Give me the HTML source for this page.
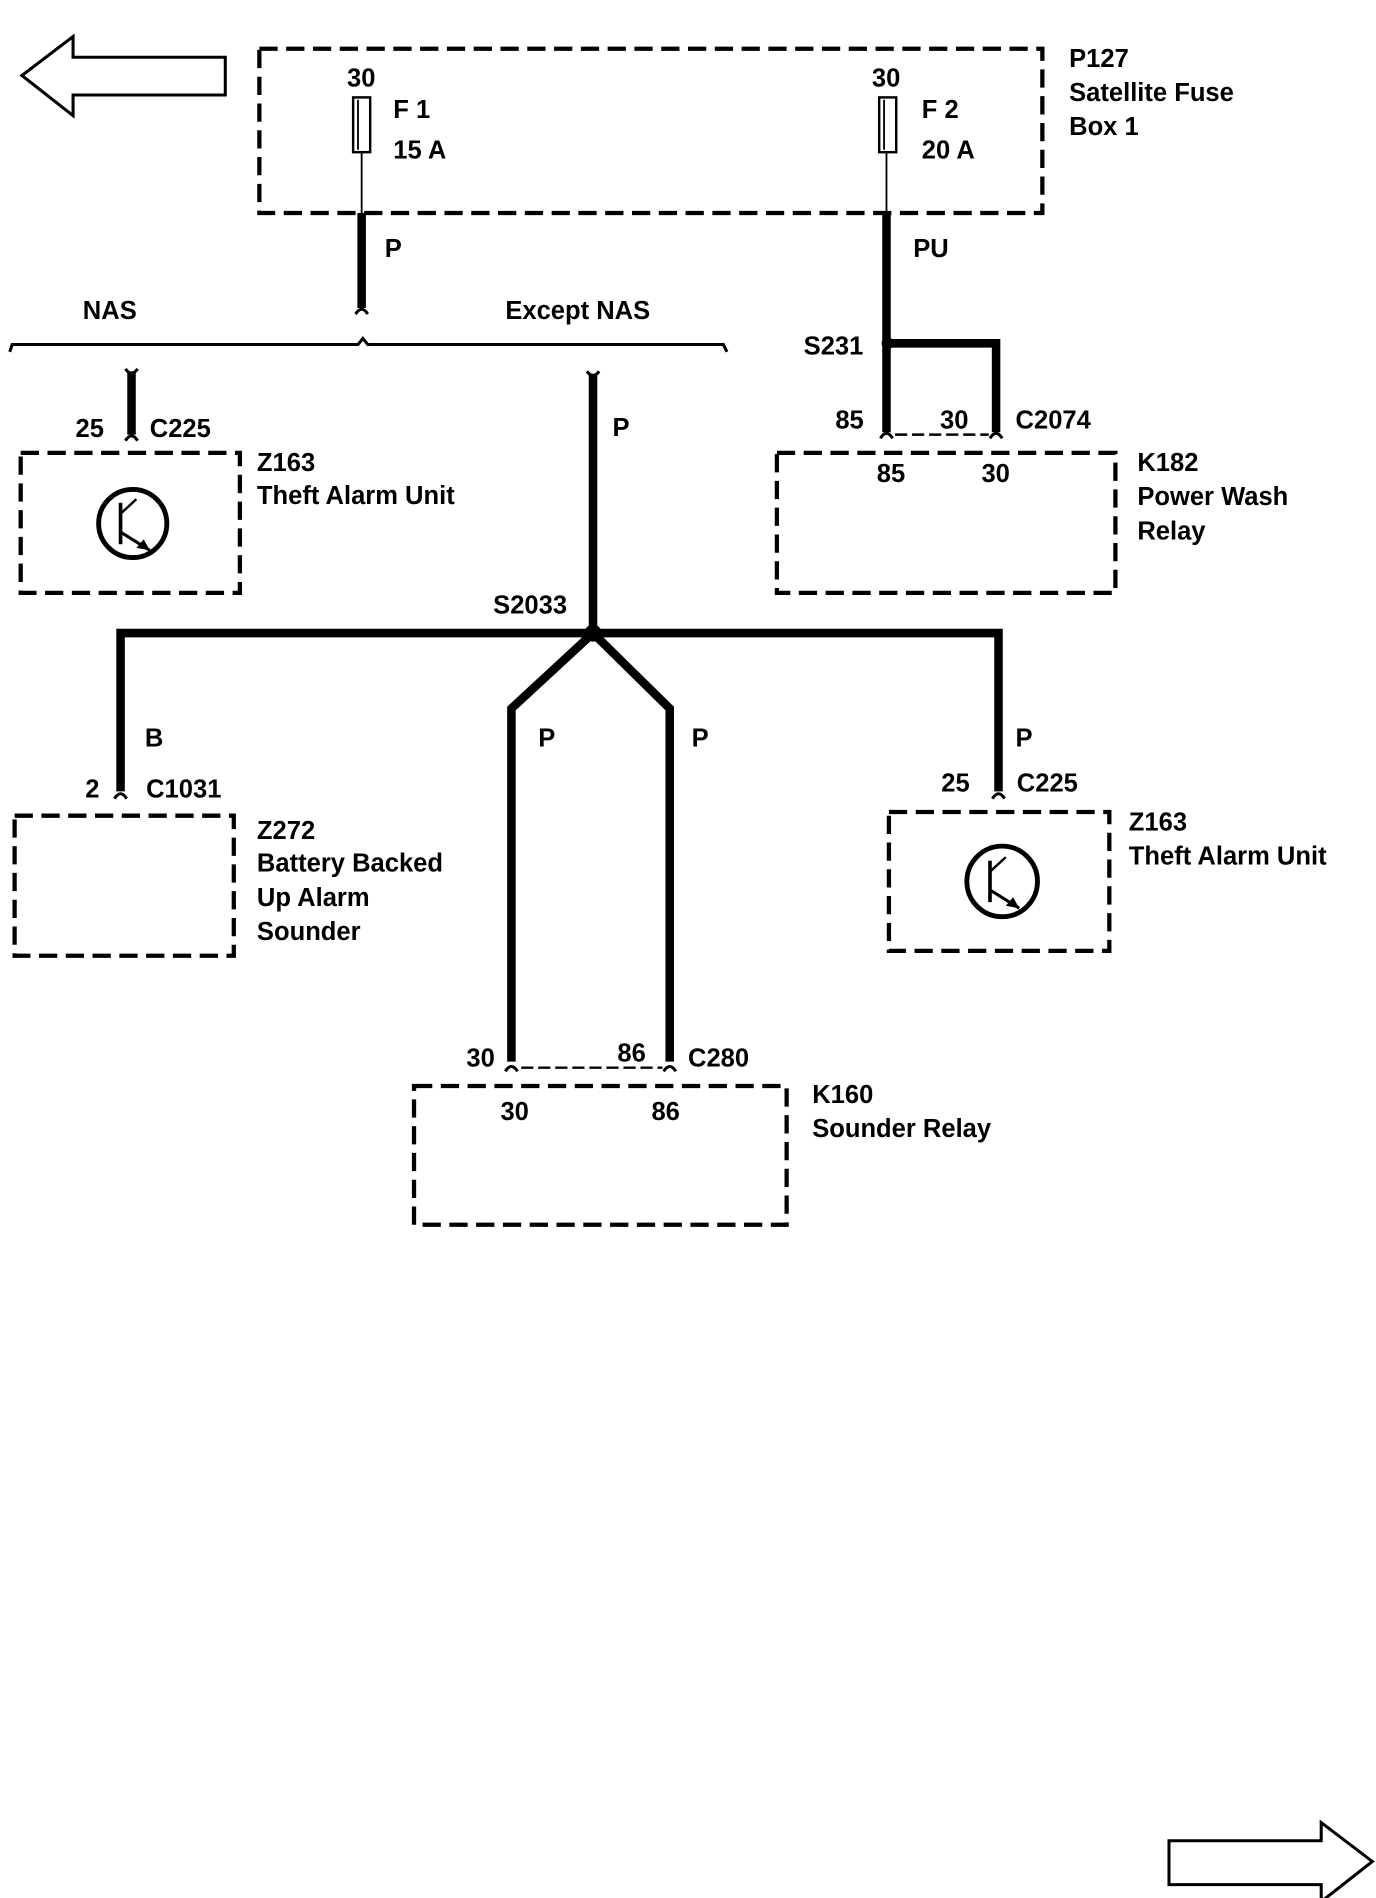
<!DOCTYPE html>
<html><head><meta charset="utf-8"><style>
html,body{margin:0;padding:0;background:#fff}
svg{display:block}
text{font-family:"Liberation Sans",Arial,sans-serif;font-weight:bold;font-size:21px;fill:#000}
.d{fill:none;stroke:#000;stroke-width:3.5;stroke-dasharray:15 7}
.w{fill:none;stroke:#000;stroke-width:7}
.t{fill:none;stroke:#000;stroke-width:1.5}
.c{fill:none;stroke:#000;stroke-width:2.5}
</style></head><body>
<svg width="1376" height="1898" viewBox="0 0 1130 1559" preserveAspectRatio="none">
<polygon points="18,62 60,30 60,47 185,47 185,78 60,78 60,95" fill="#fff" stroke="#000" stroke-width="2.5"/>
<polygon points="960,1512 1085,1512 1085,1497 1127,1529 1085,1562 1085,1548 960,1548" fill="#fff" stroke="#000" stroke-width="2.5"/>
<rect x="213" y="40" width="643" height="135" class="d"/>
<rect x="290" y="80" width="14" height="45" fill="#fff" stroke="#000" stroke-width="2"/>
<line x1="294" y1="82" x2="294" y2="123" class="t"/>
<rect x="722" y="80" width="14" height="45" fill="#fff" stroke="#000" stroke-width="2"/>
<line x1="726" y1="82" x2="726" y2="123" class="t"/>
<line x1="297" y1="125" x2="297" y2="175" class="t"/>
<line x1="728" y1="125" x2="728" y2="175" class="t"/>
<text x="285" y="71">30</text><text x="716" y="71">30</text>
<text x="323" y="97">F 1</text><text x="323" y="130">15 A</text>
<text x="757" y="97">F 2</text><text x="757" y="130">20 A</text>
<text x="878" y="55">P127</text><text x="878" y="83">Satellite Fuse</text><text x="878" y="111">Box 1</text>
<line x1="297" y1="175" x2="297" y2="253" class="w"/>
<path d="M292,258 Q297,250 302,258" class="c"/>
<line x1="728" y1="175" x2="728" y2="355" class="w"/>
<text x="316" y="211">P</text><text x="750" y="211">PU</text>
<text x="68" y="262">NAS</text><text x="415" y="262">Except NAS</text>
<path d="M8,289 L10,283 L294,283 L298,278 L302,283 L594,283 L597,289" fill="none" stroke="#000" stroke-width="2.5"/>
<line x1="108" y1="305" x2="108" y2="357" class="w"/>
<path d="M103,303 Q108,310 113,303" class="c"/>
<path d="M103,362 Q108,354 113,362" class="c"/>
<text x="62" y="359">25</text><text x="123" y="359">C225</text>
<rect x="17" y="372" width="180" height="115" class="d"/>
<circle cx="109" cy="430" r="28" fill="none" stroke="#000" stroke-width="4"/>
<line x1="99" y1="413" x2="99" y2="447" stroke="#000" stroke-width="3"/>
<line x1="99" y1="422" x2="112" y2="410" stroke="#000" stroke-width="2"/>
<line x1="99" y1="437" x2="123" y2="452" stroke="#000" stroke-width="2.5"/>
<polygon points="123,452 112,450 118,443" fill="#000"/>
<text x="211" y="387">Z163</text><text x="211" y="414">Theft Alarm Unit</text>
<line x1="487" y1="307" x2="487" y2="520" class="w"/>
<path d="M482,305 Q487,312 492,305" class="c"/>
<text x="503" y="358">P</text>
<circle cx="729" cy="282" r="5" fill="#000"/>
<polyline points="729,282 818,282 818,355" class="w"/>
<text x="660" y="291">S231</text>
<path d="M723,360 Q728,352 733,360" class="c"/>
<path d="M813,360 Q818,352 823,360" class="c"/>
<line x1="735" y1="357" x2="812" y2="357" stroke="#000" stroke-width="2" stroke-dasharray="10 4"/>
<text x="686" y="352">85</text><text x="772" y="352">30</text><text x="834" y="352">C2074</text>
<rect x="638" y="372" width="278" height="115" class="d"/>
<text x="720" y="396">85</text><text x="806" y="396">30</text>
<text x="934" y="387">K182</text><text x="934" y="415">Power Wash</text><text x="934" y="443">Relay</text>
<circle cx="487" cy="520" r="7" fill="#000"/>
<text x="405" y="504">S2033</text>
<polyline points="99,650 99,520 820,520 820,650" class="w"/>
<polyline points="487,520 420,582 420,872" class="w"/>
<polyline points="487,520 550,582 550,872" class="w"/>
<text x="119" y="613">B</text><text x="834" y="613">P</text>
<text x="442" y="613">P</text><text x="568" y="613">P</text>
<path d="M94,656 Q99,648 104,656" class="c"/>
<path d="M815,656 Q820,648 825,656" class="c"/>
<text x="70" y="655">2</text><text x="120" y="655">C1031</text>
<rect x="12" y="670" width="180" height="115" class="d"/>
<text x="211" y="689">Z272</text><text x="211" y="716">Battery Backed</text><text x="211" y="744">Up Alarm</text><text x="211" y="772">Sounder</text>
<text x="773" y="650">25</text><text x="835" y="650">C225</text>
<rect x="730" y="667" width="181" height="114" class="d"/>
<circle cx="823" cy="724" r="29" fill="none" stroke="#000" stroke-width="4"/>
<line x1="813" y1="707" x2="813" y2="741" stroke="#000" stroke-width="3"/>
<line x1="813" y1="716" x2="826" y2="704" stroke="#000" stroke-width="2"/>
<line x1="813" y1="731" x2="837" y2="746" stroke="#000" stroke-width="2.5"/>
<polygon points="837,746 826,744 832,737" fill="#000"/>
<text x="927" y="682">Z163</text><text x="927" y="710">Theft Alarm Unit</text>
<path d="M415,880 Q420,872 425,880" class="c"/>
<path d="M545,880 Q550,872 555,880" class="c"/>
<line x1="428" y1="877" x2="544" y2="877" stroke="#000" stroke-width="2" stroke-dasharray="10 4"/>
<text x="383" y="876">30</text><text x="507" y="872">86</text><text x="565" y="876">C280</text>
<rect x="340" y="892" width="306" height="114" class="d"/>
<text x="411" y="920">30</text><text x="535" y="920">86</text>
<text x="667" y="906">K160</text><text x="667" y="934">Sounder Relay</text>
</svg>
</body></html>
